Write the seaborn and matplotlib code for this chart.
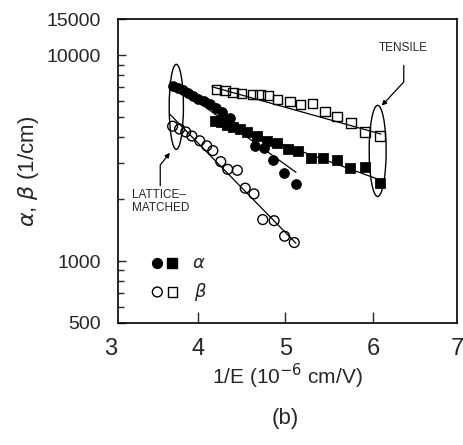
import numpy as np
import seaborn as sns
import matplotlib
matplotlib.use('AGG')
import matplotlib.pyplot as plt
from matplotlib.patches import Ellipse
from matplotlib.ticker import LogLocator, NullFormatter

# Data
# alpha, lattice-matched (filled circles)
lm_alpha_x = [3.71, 3.77, 3.83, 3.89, 3.94, 4.00, 4.07, 4.14, 4.21, 4.27, 4.37,
              4.65, 4.75, 4.86, 4.98, 5.12]
lm_alpha_y = [7110, 6950, 6800, 6580, 6370, 6150, 5960, 5770, 5520, 5280, 4940,
              3630, 3550, 3110, 2670, 2360]

# alpha, tensile (filled squares)
ts_alpha_x = [4.19, 4.26, 4.33, 4.40, 4.48, 4.56, 4.67, 4.79, 4.90, 5.03, 5.14,
              5.29, 5.43, 5.59, 5.74, 5.91, 6.08]
ts_alpha_y = [4780, 4730, 4580, 4480, 4380, 4240, 4050, 3840, 3750, 3510, 3440,
              3150, 3180, 3080, 2820, 2850, 2390]

# beta, lattice-matched (open circles)
lm_beta_x = [3.71, 3.79, 3.86, 3.93, 4.02, 4.10, 4.17, 4.26, 4.34, 4.45, 4.54,
             4.64, 4.74, 4.87, 4.99, 5.10]
lm_beta_y = [4520, 4380, 4240, 4050, 3840, 3630, 3440, 3040, 2790, 2760, 2260,
             2120, 1590, 1570, 1320, 1230]

# beta, tensile (open squares)
ts_beta_x = [4.21, 4.31, 4.40, 4.50, 4.62, 4.71, 4.80, 4.91, 5.05, 5.17, 5.31,
             5.45, 5.59, 5.75, 5.91, 6.08]
ts_beta_y = [6800, 6730, 6580, 6510, 6440, 6440, 6370, 6090, 5960, 5770, 5830,
             5340, 5050, 4680, 4240, 4050]

# fitted lines (end points)
lm_alpha_fit_x = [3.68, 5.12]
lm_alpha_fit_y = [7430, 2700]
ts_alpha_fit_x = [4.17, 6.09]
ts_alpha_fit_y = [4890, 2470]
lm_beta_fit_x = [3.68, 5.12]
lm_beta_fit_y = [5160, 1220]
ts_beta_fit_x = [4.16, 6.09]
ts_beta_fit_y = [7030, 4140]

y_ticks = [500, 1000, 10000, 15000]
y_tick_labels = ['500', '1000', '10000', '15000']
x_ticks = [4, 5, 6]

sns.set_style("white")
plt.rcParams['font.family'] = ['Liberation Sans', 'DejaVu Sans']
plt.rcParams['mathtext.fontset'] = 'dejavusans'

fig = plt.figure(figsize=(4.64, 4.45), dpi=100)
ax = fig.add_axes([0.2543, 0.2742, 0.7306, 0.6831])

# Fit lines
for fx, fy in [(lm_alpha_fit_x, lm_alpha_fit_y), (ts_alpha_fit_x, ts_alpha_fit_y),
               (lm_beta_fit_x, lm_beta_fit_y), (ts_beta_fit_x, ts_beta_fit_y)]:
    sns.lineplot(x=fx, y=fy, ax=ax, color='black', linewidth=0.9,
                 sort=False, estimator=None)

# Data points
sns.scatterplot(x=lm_alpha_x, y=lm_alpha_y, ax=ax, marker='o', s=50,
                color='black', edgecolor='black', zorder=3)
sns.scatterplot(x=ts_alpha_x, y=ts_alpha_y, ax=ax, marker='s', s=46,
                color='black', edgecolor='black', zorder=3)
sns.scatterplot(x=lm_beta_x, y=lm_beta_y, ax=ax, marker='o', s=50,
                facecolor='none', edgecolor='black', linewidth=1.0, zorder=3)
sns.scatterplot(x=ts_beta_x, y=ts_beta_y, ax=ax, marker='s', s=46,
                facecolor='none', edgecolor='black', linewidth=1.0, zorder=3)

# Axes
ax.set_yscale('log')
ax.set_xlim(3.086, 6.96)
ax.set_ylim(500, 15000)
ax.set_yticks(y_ticks)
ax.set_yticklabels(y_tick_labels)
ax.yaxis.set_minor_locator(LogLocator(subs=range(2, 10)))
ax.yaxis.set_minor_formatter(NullFormatter())
ax.set_xticks(x_ticks)
ax.set_xticklabels([str(t) for t in x_ticks])
ax.tick_params(axis='x', direction='in', length=8, width=1, pad=11,
               labelsize=17, bottom=True, top=False)
ax.tick_params(axis='y', which='major', direction='in', length=6, width=1,
               pad=12, labelsize=14, left=True)
ax.tick_params(axis='y', which='minor', direction='in', length=4, width=1,
               left=True)
for sp in ax.spines.values():
    sp.set_color('black')
    sp.set_linewidth(1.2)

# x labels 3 and 7 sit just outside the frame
for xv, xpos in [(3, 3.0), (7, 6.965)]:
    ax.annotate(str(xv), xy=(xpos, 0), xycoords=('data', 'axes fraction'),
                xytext=(0, -11), textcoords='offset points',
                ha='center', va='top', fontsize=17)

ax.set_ylabel(r'$\alpha$, $\beta$ (1/cm)', fontsize=16, labelpad=4)
ax.set_xlabel('1/E (10$^{-6}$ cm/V)', fontsize=15, labelpad=1)
fig.text(0.614, 0.06, '(b)', ha='center', va='center', fontsize=16)

# Ellipses around groups
ax.add_patch(Ellipse((0.172, 0.711), 0.042, 0.28, transform=ax.transAxes,
                     fill=False, color='black', linewidth=1))
ax.add_patch(Ellipse((0.766, 0.566), 0.05, 0.30, transform=ax.transAxes,
                     fill=False, color='black', linewidth=1))

# Labels with pointers
ax.annotate('TENSILE', xy=(0.778, 0.715), xycoords='axes fraction',
            xytext=(0.843, 0.905), textcoords='axes fraction',
            ha='center', va='center', fontsize=8.5,
            arrowprops=dict(arrowstyle='-|>', color='black', linewidth=0.9,
                            mutation_scale=7, shrinkA=6, shrinkB=0,
                            connectionstyle='angle,angleA=90,angleB=47,rad=0'))
ax.annotate('LATTICE\u2013\nMATCHED', xy=(0.153, 0.56), xycoords='axes fraction',
            xytext=(0.04, 0.40), textcoords='axes fraction',
            ha='left', va='center', fontsize=8.5, linespacing=1.1,
            arrowprops=dict(arrowstyle='-|>', color='black', linewidth=0.9,
                            mutation_scale=7, shrinkA=0, shrinkB=0,
                            relpos=(0.5, 1.0),
                            connectionstyle='angle,angleA=90,angleB=52,rad=0'))

# Legend drawn by hand
ax.scatter([0.116], [0.197], transform=ax.transAxes, marker='o', s=50,
           color='black', clip_on=False)
ax.scatter([0.160], [0.197], transform=ax.transAxes, marker='s', s=46,
           color='black', clip_on=False)
ax.text(0.237, 0.197, r'$\alpha$', transform=ax.transAxes, fontsize=13,
        ha='center', va='center')
ax.scatter([0.116], [0.102], transform=ax.transAxes, marker='o', s=50,
           facecolor='none', edgecolor='black', linewidth=1.0, clip_on=False)
ax.scatter([0.160], [0.102], transform=ax.transAxes, marker='s', s=46,
           facecolor='none', edgecolor='black', linewidth=1.0, clip_on=False)
ax.text(0.242, 0.102, r'$\beta$', transform=ax.transAxes, fontsize=13,
        ha='center', va='center')

plt.savefig('out.png', dpi=100)
